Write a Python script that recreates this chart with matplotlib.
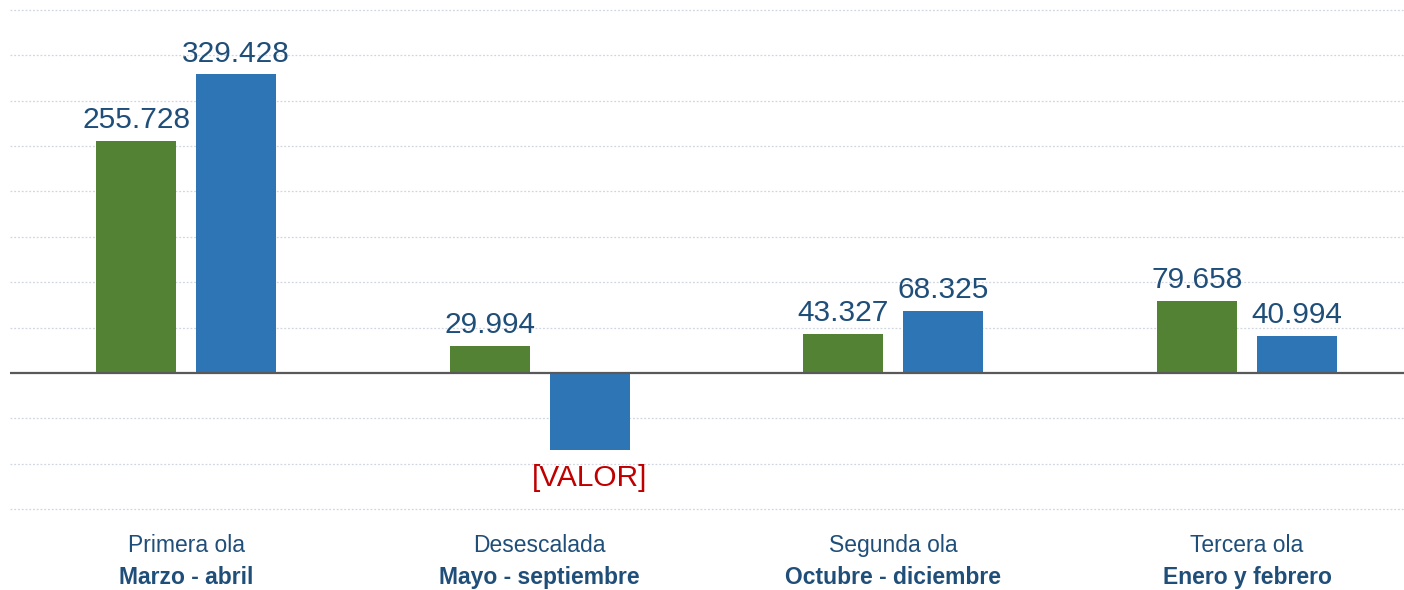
import matplotlib
matplotlib.use("Agg")
import matplotlib.pyplot as plt
import numpy as np

plt.rcParams['font.family'] = ['Liberation Sans', 'DejaVu Sans']

periods = ["Primera ola", "Desescalada", "Segunda ola", "Tercera ola"]
months = ["Marzo - abril", "Mayo - septiembre", "Octubre - diciembre", "Enero y febrero"]
series_green = [255.728, 29.994, 43.327, 79.658]
series_blue = [329.428, -85.0, 68.325, 40.994]
labels_green = ["255.728", "29.994", "43.327", "79.658"]
labels_blue = ["329.428", "[VALOR]", "68.325", "40.994"]

GREEN = "#548235"
BLUE = "#2E75B6"
TXT = "#1F4E79"
RED = "#C00000"

W, H = 1404, 590
fig = plt.figure(figsize=(W / 100, H / 100), dpi=100)
ax = fig.add_axes([10 / W, (H - 509) / H, 1 - 10 / W, (509 - 10) / H])

x = np.arange(len(periods))
off = 0.1414
bw = 0.226
ax.bar(x - off, series_green, bw, color=GREEN, zorder=2)
ax.bar(x + off, series_blue, bw, color=BLUE, zorder=2)

ax.set_xlim(-0.4977, 3.444)
ax.set_ylim(-150, 400)
for yv in np.arange(-150, 401, 50):
    if yv == 0:
        continue
    ax.axhline(yv, color="#D0D7E0", lw=0.9, ls=(0, (1.5, 1.5)), zorder=1, clip_on=False)
ax.axhline(0, color="#595959", lw=1.6, zorder=3)

for s in ax.spines.values():
    s.set_visible(False)
ax.set_xticks([])
ax.set_yticks([])

for i in range(len(periods)):
    for xs, v, lab in [(x[i] - off, series_green[i], labels_green[i]),
                       (x[i] + off, series_blue[i], labels_blue[i])]:
        if v >= 0:
            ax.annotate(lab, (xs, v), xytext=(0, 9), textcoords="offset points",
                        ha="center", va="baseline", fontsize=21.5, color=TXT)
        else:
            ax.annotate(lab, (xs, v), xytext=(0, -10), textcoords="offset points",
                        ha="center", va="top", fontsize=21.5, color=RED)
    ax.annotate(periods[i], (x[i], H - 552), xycoords=("data", "figure pixels"),
                ha="center", va="baseline", fontsize=16.5, color=TXT, annotation_clip=False)
    ax.annotate(months[i], (x[i], H - 584), xycoords=("data", "figure pixels"),
                ha="center", va="baseline", fontsize=16.5, color=TXT, fontweight="bold",
                annotation_clip=False)

fig.savefig("out.png", dpi=100)
